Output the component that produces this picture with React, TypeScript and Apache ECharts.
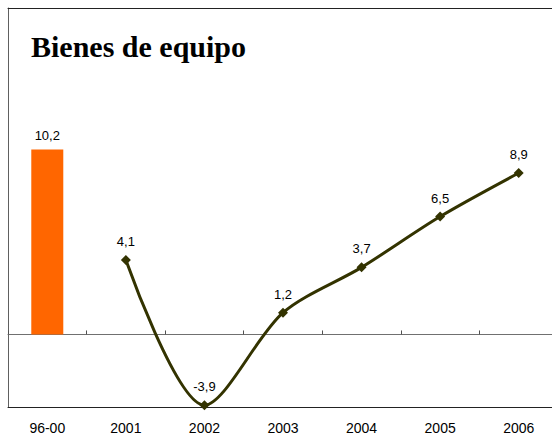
import React, { useEffect, useRef } from "react";
import * as echarts from "echarts";

const titleText = "Bienes de equipo";
const categories = ["96-00", "2001", "2002", "2003", "2004", "2005", "2006"];
const barValues: (number | null)[] = [10.2, null, null, null, null, null, null];
const lineValues: (number | null)[] = [null, 4.1, -3.9, 1.2, 3.7, 6.5, 8.9];

const fmt = (v: number) => v.toFixed(1).replace(".", ",");

export default function App() {
  const ref = useRef<HTMLDivElement>(null);
  useEffect(() => {
    if (!ref.current) return;
    const chart = echarts.init(ref.current, null, { renderer: "svg" });
    chart.setOption({
      animation: false,
      backgroundColor: "#ffffff",
      title: {
        text: titleText,
        left: 31,
        top: 31,
        padding: 0,
        textStyle: {
          fontFamily: "Liberation Serif",
          fontWeight: "bold",
          fontSize: 30,
          color: "#000000",
        },
      },
      grid: {
        left: 8,
        top: 8,
        right: 42,
        bottom: 32,
        show: false,
      },
      xAxis: [
        {
          type: "category",
          data: categories,
          position: "bottom",
          boundaryGap: true,
          axisLine: { onZero: false, show: true, lineStyle: { color: "#222222", width: 1 } },
          axisTick: { show: false },
          axisLabel: {
            margin: 14,
            fontFamily: "Liberation Sans",
            fontSize: 14,
            color: "#000000",
          },
          splitLine: { show: false },
        },
        {
          type: "category",
          data: categories,
          position: "top",
          boundaryGap: true,
          axisLine: { onZero: true, show: true, lineStyle: { color: "#707070", width: 1 } },
          axisTick: { show: true, length: 4, lineStyle: { color: "#505050" } },
          axisLabel: { show: false },
          splitLine: { show: false },
        },
        {
          type: "category",
          data: categories,
          position: "top",
          offset: 0,
          boundaryGap: true,
          axisLine: { onZero: false, show: true, lineStyle: { color: "#222222", width: 1 } },
          axisTick: { show: false },
          axisLabel: { show: false },
          splitLine: { show: false },
        },
      ],
      yAxis: {
        type: "value",
        min: -4,
        max: 18,
        axisLine: { show: true, lineStyle: { color: "#606060" } },
        axisTick: { show: false },
        axisLabel: { show: false },
        splitLine: { show: false },
      },
      series: [
        {
          type: "bar",
          xAxisIndex: 0,
          data: barValues,
          barWidth: 32,
          itemStyle: { color: "#FF6600" },
          label: {
            show: true,
            position: "top",
            distance: 7,
            fontFamily: "Liberation Sans",
            fontSize: 13,
            color: "#000000",
            formatter: (p: any) => (p.value == null ? "" : fmt(p.value)),
          },
        },
        {
          type: "line",
          xAxisIndex: 0,
          data: lineValues,
          smooth: 0.3,
          symbol: "diamond",
          symbolSize: 10,
          lineStyle: { color: "#333300", width: 3 },
          itemStyle: { color: "#333300" },
          label: {
            show: true,
            position: "top",
            distance: 7,
            fontFamily: "Liberation Sans",
            fontSize: 13,
            color: "#000000",
            formatter: (p: any) => (p.value == null ? "" : fmt(p.value)),
          },
        },
      ],
    });
    return () => chart.dispose();
  }, []);
  return (
    <div
      style={{
        position: "absolute",
        left: 0,
        top: 0,
        width: 552,
        height: 439,
        overflow: "hidden",
        background: "#ffffff",
      }}
    >
      <div ref={ref} style={{ width: 600, height: 439 }} />
    </div>
  );
}
